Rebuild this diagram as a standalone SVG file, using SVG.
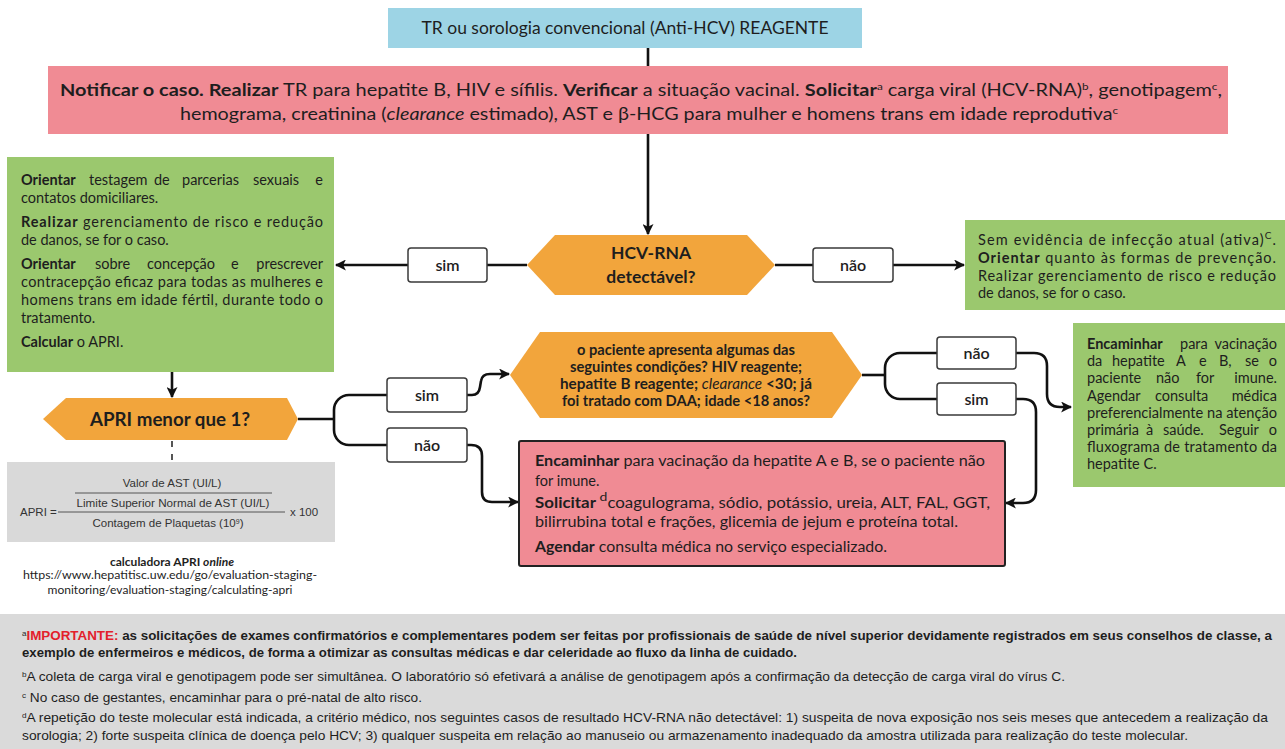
<svg xmlns="http://www.w3.org/2000/svg" width="1285" height="749" viewBox="0 0 1285 749">
  <style>
    text { font-family: Lato, "Open Sans", "Liberation Sans", sans-serif; fill: #1e1e1e; }
    .b { font-weight: 700; }
    .i { font-style: italic; }
    .sup { font-size: 10px; baseline-shift: super; }
    .body { font-size: 14.5px; }
    .hex { font-size: 17.5px; font-weight: 700; text-anchor: middle; }
    .lbl { font-size: 16px; font-weight: 600; text-anchor: middle; }
    .lblbox { fill: #ffffff; stroke: #3a3a3a; stroke-width: 1.5; }
    .conn { fill: none; stroke: #111111; stroke-width: 2.6; }
    .foot { font-family: "Liberation Sans", Arial, sans-serif; font-size: 13.5px; }
    .frm { font-family: "Liberation Sans", Arial, sans-serif; font-size: 11.5px; fill: #333; }
  </style>
  <defs>
    <marker id="arr" viewBox="0 0 10 10" refX="9" refY="5" markerWidth="11" markerHeight="11" markerUnits="userSpaceOnUse" orient="auto">
      <path d="M0,0 L10,5 L0,10 L2.5,5 Z" fill="#111111"/>
    </marker>
  </defs>

  <!-- connectors -->
  <g id="connectors">
    <path class="conn" d="M648,48 V66"/>
    <path class="conn" d="M648,134 V234" marker-end="url(#arr)"/>
    <path class="conn" d="M527,265 H487"/>
    <path class="conn" d="M408,265 H336" marker-end="url(#arr)"/>
    <path class="conn" d="M775,265 H813"/>
    <path class="conn" d="M893,265 H964" marker-end="url(#arr)"/>
    <path class="conn" d="M172,372 V397" marker-end="url(#arr)"/>
    <path d="M172,441 V462" fill="none" stroke="#444" stroke-width="1.8" stroke-dasharray="6,7"/>
    <!-- APRI fork -->
    <path class="conn" d="M298,419 H334"/>
    <path class="conn" d="M387,395 H349 A15,15 0 0 0 334,410 V430 A15,15 0 0 0 349,445 H387"/>
    <path class="conn" d="M467,395 H472 Q479,395 480,387 L481,381 Q482,374 490,374 H509" marker-end="url(#arr)"/>
    <path class="conn" d="M467,445 H471 Q482,445 482,456 V492 Q482,502 492,502 H518" marker-end="url(#arr)"/>
    <!-- conditions fork -->
    <path class="conn" d="M862,375 H885"/>
    <path class="conn" d="M937,353 H900 A15,15 0 0 0 885,368 V384 A15,15 0 0 0 900,399 H937"/>
    <path class="conn" d="M1016,353 H1034 Q1047,353 1047,366 V394 Q1047,407 1060,407 H1071" marker-end="url(#arr)"/>
    <path class="conn" d="M1016,399 H1023 Q1036,399 1036,412 V490 Q1036,503 1023,503 H1006" marker-end="url(#arr)"/>
  </g>

  <!-- start -->
  <g id="start">
    <rect x="388" y="8" width="474" height="40" fill="#9dd4e5"/>
    <text x="625" y="34" font-size="18" text-anchor="middle" textLength="407" lengthAdjust="spacingAndGlyphs">TR ou sorologia convencional (Anti-HCV) REAGENTE</text>
  </g>

  <!-- initial actions -->
  <g id="actions">
    <rect x="48" y="66" width="1180" height="68" fill="#f08b94"/>
    <text x="60" y="96" font-size="17" textLength="1162" lengthAdjust="spacingAndGlyphs"><tspan class="b">Notificar o caso. Realizar</tspan> TR para hepatite B, HIV e sífilis. <tspan class="b">Verificar</tspan> a situação vacinal. <tspan class="b">Solicitar</tspan><tspan class="sup">a</tspan> carga viral (HCV-RNA)<tspan class="sup">b</tspan>, genotipagem<tspan class="sup">c</tspan>,</text>
    <text x="180" y="120" font-size="17" textLength="938" lengthAdjust="spacingAndGlyphs">hemograma, creatinina (<tspan class="i">clearance</tspan> estimado), AST e β-HCG para mulher e homens trans em idade reprodutiva<tspan class="sup">c</tspan></text>
  </g>

  <!-- HCV-RNA decision -->
  <g id="hcv-rna">
    <polygon points="527,265 555,235 747,235 775,265 747,295 555,295" fill="#f2a53c"/>
    <text class="hex" x="651" y="259">HCV-RNA</text>
    <text class="hex" x="651" y="283">detectável?</text>
  </g>

  <g id="label-sim-1">
    <rect class="lblbox" x="408" y="248" width="79" height="34" rx="3"/>
    <text class="lbl" x="447.5" y="271">sim</text>
  </g>
  <g id="label-nao-1">
    <rect class="lblbox" x="813" y="248" width="80" height="34" rx="3"/>
    <text class="lbl" x="853" y="271">não</text>
  </g>

  <!-- detectable: follow-up -->
  <g id="detectable">
    <rect x="7" y="157" width="327" height="215" fill="#9bc86e"/>
    <text class="body" y="185"><tspan class="b" x="21">Orientar</tspan><tspan x="89">testagem</tspan><tspan x="154">de</tspan><tspan x="182">parcerias</tspan><tspan x="253">sexuais</tspan><tspan x="323" text-anchor="end">e</tspan></text>
    <text class="body" x="21" y="203">contatos domiciliares.</text>
    <text class="body" x="21" y="227" textLength="302" lengthAdjust="spacing"><tspan class="b">Realizar</tspan> gerenciamento de risco e redução</text>
    <text class="body" x="21" y="245">de danos, se for o caso.</text>
    <text class="body" y="269"><tspan class="b" x="21">Orientar</tspan><tspan x="95">sobre</tspan><tspan x="147">concepção</tspan><tspan x="231">e</tspan><tspan x="323" text-anchor="end">prescrever</tspan></text>
    <text class="body" x="21" y="287" textLength="302" lengthAdjust="spacing">contracepção eficaz para todas as mulheres e</text>
    <text class="body" x="21" y="305" textLength="302" lengthAdjust="spacing">homens trans em idade fértil, durante todo o</text>
    <text class="body" x="21" y="323">tratamento.</text>
    <text class="body" x="21" y="347"><tspan class="b">Calcular</tspan> o APRI.</text>
  </g>

  <!-- not detectable -->
  <g id="not-detectable">
    <rect x="965" y="220" width="320" height="90" fill="#9bc86e"/>
    <text class="body" x="978" y="245" textLength="298" lengthAdjust="spacing">Sem evidência de infecção atual (ativa)<tspan class="sup">C</tspan>.</text>
    <text class="body" x="978" y="263" textLength="298" lengthAdjust="spacing"><tspan class="b">Orientar</tspan> quanto às formas de prevenção.</text>
    <text class="body" x="978" y="281" textLength="298" lengthAdjust="spacing">Realizar gerenciamento de risco e redução</text>
    <text class="body" x="978" y="298">de danos, se for o caso.</text>
  </g>

  <!-- APRI decision -->
  <g id="apri">
    <polygon points="43,419 66,398 287,398 298,419 287,440 66,440" fill="#f2a53c"/>
    <text x="170" y="426" font-size="19" font-weight="700" text-anchor="middle" textLength="160" lengthAdjust="spacingAndGlyphs">APRI menor que 1?</text>
  </g>

  <!-- APRI formula -->
  <g id="apri-formula">
    <rect x="7" y="462" width="328" height="80" fill="#d9d9d9"/>
    <text class="frm" x="172" y="487" text-anchor="middle">Valor de AST (UI/L)</text>
    <line x1="75" y1="493" x2="272" y2="493" stroke="#555" stroke-width="1"/>
    <text class="frm" x="173" y="507" text-anchor="middle" textLength="193" lengthAdjust="spacingAndGlyphs">Limite Superior Normal de AST (UI/L)</text>
    <line x1="58" y1="512" x2="285" y2="512" stroke="#555" stroke-width="1"/>
    <text class="frm" x="20" y="516">APRI =</text>
    <text class="frm" x="290" y="516">x 100</text>
    <text class="frm" x="168" y="527" text-anchor="middle">Contagem de Plaquetas (10<tspan font-size="7" baseline-shift="super">9</tspan>)</text>
  </g>

  <g id="apri-link">
    <text x="172" y="566" font-size="12" font-weight="700" text-anchor="middle">calculadora APRI <tspan class="i">online</tspan></text>
    <text x="170" y="579" font-size="12" fill="#333" text-anchor="middle" textLength="294" lengthAdjust="spacingAndGlyphs">https://www.hepatitisc.uw.edu/go/evaluation-staging-</text>
    <text x="170" y="594" font-size="12" fill="#333" text-anchor="middle" textLength="245" lengthAdjust="spacingAndGlyphs">monitoring/evaluation-staging/calculating-apri</text>
  </g>

  <g id="label-sim-apri">
    <rect class="lblbox" x="387" y="378" width="80" height="34" rx="3"/>
    <text class="lbl" x="427" y="401">sim</text>
  </g>
  <g id="label-nao-apri">
    <rect class="lblbox" x="387" y="428" width="80" height="34" rx="3"/>
    <text class="lbl" x="427" y="451">não</text>
  </g>

  <!-- conditions decision -->
  <g id="conditions">
    <polygon points="510,375 540,332 832,332 862,375 832,418 540,418" fill="#f2a53c"/>
    <text x="686" y="355" font-size="14.5" font-weight="700" text-anchor="middle" textLength="218" lengthAdjust="spacingAndGlyphs">o paciente apresenta algumas das</text>
    <text x="686" y="372" font-size="14.5" font-weight="700" text-anchor="middle" textLength="232" lengthAdjust="spacingAndGlyphs">seguintes condições? HIV reagente;</text>
    <text x="686" y="389" font-size="14.5" font-weight="700" text-anchor="middle" textLength="252" lengthAdjust="spacingAndGlyphs">hepatite B reagente; <tspan font-weight="400" font-style="italic">clearance</tspan> &lt;30; já</text>
    <text x="686" y="406" font-size="14.5" font-weight="700" text-anchor="middle" textLength="248" lengthAdjust="spacingAndGlyphs">foi tratado com DAA; idade &lt;18 anos?</text>
  </g>

  <g id="label-nao-2">
    <rect class="lblbox" x="937" y="337" width="79" height="32" rx="3"/>
    <text class="lbl" x="976.5" y="359">não</text>
  </g>
  <g id="label-sim-2">
    <rect class="lblbox" x="937" y="383" width="79" height="32" rx="3"/>
    <text class="lbl" x="976.5" y="405">sim</text>
  </g>

  <!-- specialized care -->
  <g id="specialized">
    <rect x="519" y="441" width="486" height="125" rx="2" fill="#f08b94" stroke="#222" stroke-width="2"/>
    <text class="body" x="535" y="466" textLength="450" lengthAdjust="spacingAndGlyphs"><tspan class="b">Encaminhar</tspan> para vacinação da hepatite A e B, se o paciente não</text>
    <text class="body" x="535" y="486">for imune.</text>
    <text class="body" x="535" y="508" textLength="455" lengthAdjust="spacingAndGlyphs"><tspan class="b">Solicitar</tspan><tspan font-size="12" baseline-shift="super"> d</tspan>coagulograma, sódio, potássio, ureia, ALT, FAL, GGT,</text>
    <text class="body" x="535" y="527" textLength="423" lengthAdjust="spacingAndGlyphs">bilirrubina total e frações, glicemia de jejum e proteína total.</text>
    <text class="body" x="535" y="552" textLength="352" lengthAdjust="spacingAndGlyphs"><tspan class="b">Agendar</tspan> consulta médica no serviço especializado.</text>
  </g>

  <!-- primary care -->
  <g id="primary-care">
    <rect x="1073" y="323" width="212" height="164" fill="#9bc86e"/>
    <text class="body" y="349"><tspan class="b" x="1087">Encaminhar</tspan><tspan x="1180">para</tspan><tspan x="1277" text-anchor="end">vacinação</tspan></text>
    <text class="body" y="366"><tspan x="1087">da</tspan><tspan x="1112">hepatite</tspan><tspan x="1176">A</tspan><tspan x="1199">e</tspan><tspan x="1219">B,</tspan><tspan x="1245">se</tspan><tspan x="1277" text-anchor="end">o</tspan></text>
    <text class="body" y="383"><tspan x="1087">paciente</tspan><tspan x="1156">não</tspan><tspan x="1196">for</tspan><tspan x="1277" text-anchor="end">imune.</tspan></text>
    <text class="body" y="401"><tspan x="1087">Agendar</tspan><tspan x="1155">consulta</tspan><tspan x="1277" text-anchor="end">médica</tspan></text>
    <text class="body" x="1087" y="418" textLength="190" lengthAdjust="spacingAndGlyphs">preferencialmente na atenção</text>
    <text class="body" y="435"><tspan x="1087">primária</tspan><tspan x="1146">à</tspan><tspan x="1163">saúde.</tspan><tspan x="1219">Seguir</tspan><tspan x="1277" text-anchor="end">o</tspan></text>
    <text class="body" x="1087" y="452" textLength="190" lengthAdjust="spacing">fluxograma de tratamento da</text>
    <text class="body" x="1087" y="469">hepatite C.</text>
  </g>

  <!-- footnotes -->
  <g id="footnotes">
    <rect x="0" y="614" width="1285" height="135" fill="#dadada"/>
    <text class="foot" x="22" y="640" font-weight="700" textLength="1250" lengthAdjust="spacingAndGlyphs"><tspan font-size="8" baseline-shift="super" font-weight="400">a</tspan><tspan fill="#e3202b">IMPORTANTE:</tspan> as solicitações de exames confirmatórios e complementares podem ser feitas por profissionais de saúde de nível superior devidamente registrados em seus conselhos de classe, a</text>
    <text class="foot" x="22" y="657" font-weight="700" textLength="775" lengthAdjust="spacingAndGlyphs">exemplo de enfermeiros e médicos, de forma a otimizar as consultas médicas e dar celeridade ao fluxo da linha de cuidado.</text>
    <text class="foot" x="22" y="681" textLength="1043" lengthAdjust="spacingAndGlyphs"><tspan font-size="8" baseline-shift="super">b</tspan>A coleta de carga viral e genotipagem pode ser simultânea. O laboratório só efetivará a análise de genotipagem após a confirmação da detecção de carga viral do vírus C.</text>
    <text class="foot" x="22" y="702" textLength="400" lengthAdjust="spacingAndGlyphs"><tspan font-size="8" baseline-shift="super">c</tspan> No caso de gestantes, encaminhar para o pré-natal de alto risco.</text>
    <text class="foot" x="22" y="722" textLength="1246" lengthAdjust="spacingAndGlyphs"><tspan font-size="8" baseline-shift="super">d</tspan>A repetição do teste molecular está indicada, a critério médico, nos seguintes casos de resultado HCV-RNA não detectável: 1) suspeita de nova exposição nos seis meses que antecedem a realização da</text>
    <text class="foot" x="22" y="740" textLength="1166" lengthAdjust="spacingAndGlyphs">sorologia; 2) forte suspeita clínica de doença pelo HCV; 3) qualquer suspeita em relação ao manuseio ou armazenamento inadequado da amostra utilizada para realização do teste molecular.</text>
  </g>
</svg>
